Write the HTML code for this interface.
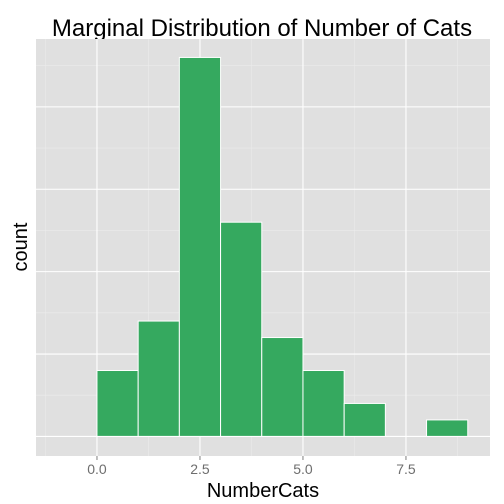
<!DOCTYPE html>
<html><head><meta charset="utf-8"><style>
html,body{margin:0;padding:0;background:#fff;}
svg{display:block;font-family:"Liberation Sans",Arial,sans-serif;}
</style></head><body>
<svg id="chart" width="504" height="504">
<text x="262" y="36" font-size="24" text-anchor="middle" fill="#000">Marginal Distribution of Number of Cats</text>
<rect x="36" y="39" width="454" height="417" fill="#e0e0e0"/>
<g id="grid"></g>
<g id="bars"></g>
<g id="xaxis"></g>
<text x="263" y="497" font-size="20" text-anchor="middle" fill="#000">NumberCats</text>
<text transform="translate(27,247) rotate(-90)" font-size="20" text-anchor="middle" fill="#000">count</text>
</svg>
<script>
const binStarts = [0,1,2,3,4,5,6,7,8];
const counts = [4,7,23,13,6,4,2,0,1];
const xTickValues = [0,2.5,5,7.5];
const xTickLabels = ["0.0","2.5","5.0","7.5"];
const yMajorTicks = [0,5,10,15,20];

const NS="http://www.w3.org/2000/svg";
const L=36,R=490,T=39,B=456;
const xMin=-1.48,xMax=9.54,yMin=-1.19,yMax=24.12;
const xs=v=>L+(v-xMin)/(xMax-xMin)*(R-L);
const ys=v=>B-(v-yMin)/(yMax-yMin)*(B-T);
function mk(tag,attrs,parent){const e=document.createElementNS(NS,tag);for(const k in attrs)e.setAttribute(k,attrs[k]);parent.appendChild(e);return e;}
const grid=document.getElementById('grid');
// minor grid
for(let i=0;i<xTickValues.length+1;i++){
  const v=xTickValues[0]-1.25+i*2.5;
  const l=mk('line',{x1:xs(v),x2:xs(v),y1:T,y2:B,stroke:'#ebebeb','stroke-width':0.6},grid);
  
  
}
for(let i=0;i<yMajorTicks.length;i++){
  const v=yMajorTicks[i]+2.5;
  const l=mk('line',{x1:L,x2:R,y1:ys(v),y2:ys(v),stroke:'#ebebeb','stroke-width':0.6},grid);
  
  
}
xTickValues.forEach(v=>{
  const l=mk('line',{x1:xs(v),x2:xs(v),y1:T,y2:B,stroke:'#fff','stroke-width':1.1},grid);
  
  
});
yMajorTicks.forEach(v=>{
  const l=mk('line',{x1:L,x2:R,y1:ys(v),y2:ys(v),stroke:'#fff','stroke-width':1.1},grid);
  
  
});
const bars=document.getElementById('bars');
binStarts.forEach((s,i)=>{
  if(counts[i]<=0)return;
  const x0=xs(s),x1=xs(s+1),y0=ys(counts[i]),y1=ys(0);
  const r=mk('rect',{x:x0,y:y0,width:x1-x0,height:y1-y0,fill:'#35a95f',stroke:'#fff','stroke-width':1},bars);
  
  
});
const xa=document.getElementById('xaxis');
xTickValues.forEach((v,i)=>{
  const t=mk('line',{x1:xs(v),x2:xs(v),y1:B,y2:B+4,stroke:'#7f7f7f','stroke-width':1},xa);
  
  
  const tx=mk('text',{x:xs(v),y:B+18,'font-size':14,'text-anchor':'middle',fill:'#6e6e6e'},xa);
  tx.textContent=xTickLabels[i];
  
  
});
</script>
</body></html>
